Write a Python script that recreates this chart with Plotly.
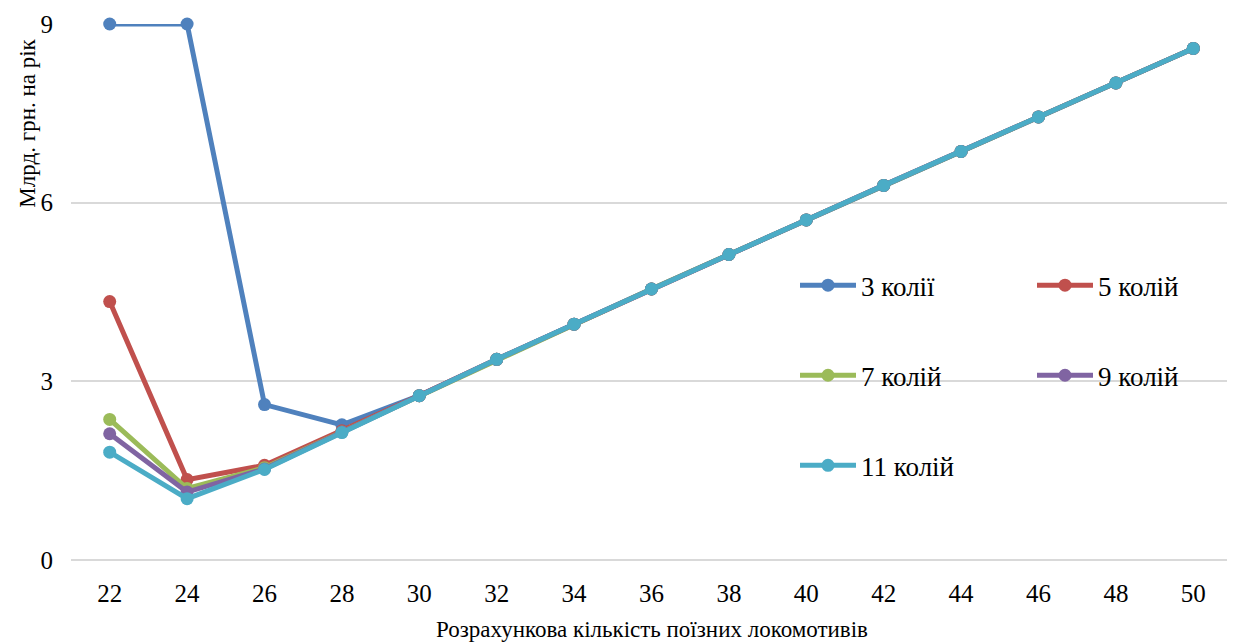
import plotly.graph_objects as go

categories = ["22", "24", "26", "28", "30", "32", "34", "36", "38", "40", "42", "44", "46", "48", "50"]
common = [2.76, 3.37, 3.96, 4.55, 5.13, 5.71, 6.29, 6.86, 7.44, 8.01, 8.59]
s3 = [9.0, 9.0, 2.61, 2.27] + common
s5 = [4.34, 1.35, 1.59, 2.17] + common
s7 = [2.36, 1.20, 1.55, 2.15] + common
s9 = [2.12, 1.14, 1.53, 2.15] + common
s11 = [1.81, 1.03, 1.52, 2.14] + common

series = [
    ("3 колії", s3, "#4f81bd", "legend"),
    ("5 колій", s5, "#c0504d", "legend2"),
    ("7 колій", s7, "#9bbb59", "legend"),
    ("9 колій", s9, "#8064a2", "legend2"),
    ("11 колій", s11, "#4bacc6", "legend"),
]

FONT = "Liberation Serif"
TICK_FS = 25
LEG_FS = 27
TITLE_FS = 23

fig = go.Figure()
for name, vals, color, lg in series:
    fig.add_trace(go.Scatter(
        x=categories, y=vals, name=name, mode="lines+markers",
        line=dict(color=color, width=5),
        marker=dict(color=color, size=13),
        legend=lg, legendgroup=name, cliponaxis=False,
    ))

# page body has an 8px offset; figure is sized to fit the window
OFF = 8
W, H = 1235 - OFF, 642 - OFF
# target plot area in screenshot pixels: x 71..1232, y 22..560
L, R, T, B = 71 - OFF, 3, 22 - OFF, 642 - 560
pw = W - L - R
ph = H - T - B

def px_x(p):
    return (p - OFF - L) / pw

def px_y(p):
    return (H - B - (p - OFF)) / ph

legend_common = dict(
    font=dict(family=FONT, size=LEG_FS, color="#000000"),
    bgcolor="rgba(0,0,0,0)",
    tracegroupgap=52,
    itemwidth=56,
    xanchor="left", yanchor="top",
)

fig.update_layout(
    width=W, height=H,
    margin=dict(l=L, r=R, t=T, b=B),
    plot_bgcolor="white", paper_bgcolor="white",
    font=dict(family=FONT, size=TICK_FS, color="#000000"),
    showlegend=True,
    legend=dict(x=px_x(795), y=px_y(260), **legend_common),
    legend2=dict(x=px_x(1032), y=px_y(260), **legend_common),
    xaxis=dict(
        type="category", range=[-0.5, 14.5],
        showgrid=False, showline=False, zeroline=False,
        ticks="", ticklabelstandoff=16,
        tickfont=dict(family=FONT, size=TICK_FS, color="#000000"),
    ),
    yaxis=dict(
        range=[0, 9], tickvals=[0, 3, 6, 9],
        showgrid=True, gridcolor="#d9d9d9", gridwidth=1.5,
        zeroline=True, zerolinecolor="#d9d9d9", zerolinewidth=1.5,
        showline=False, ticks="", ticklabelstandoff=17,
        tickfont=dict(family=FONT, size=TICK_FS, color="#000000"),
    ),
    annotations=[
        dict(text="Млрд. грн. на рік", xref="paper", yref="paper",
             x=px_x(28), y=px_y(122), textangle=-90, showarrow=False,
             xanchor="center", yanchor="middle",
             font=dict(family=FONT, size=TITLE_FS, color="#000000")),
        dict(text="Розрахункова кількість поїзних локомотивів", xref="paper", yref="paper",
             x=0.5, y=px_y(630), showarrow=False,
             xanchor="center", yanchor="middle",
             font=dict(family=FONT, size=TITLE_FS, color="#000000")),
    ],
)

fig.write_html("out.html")
